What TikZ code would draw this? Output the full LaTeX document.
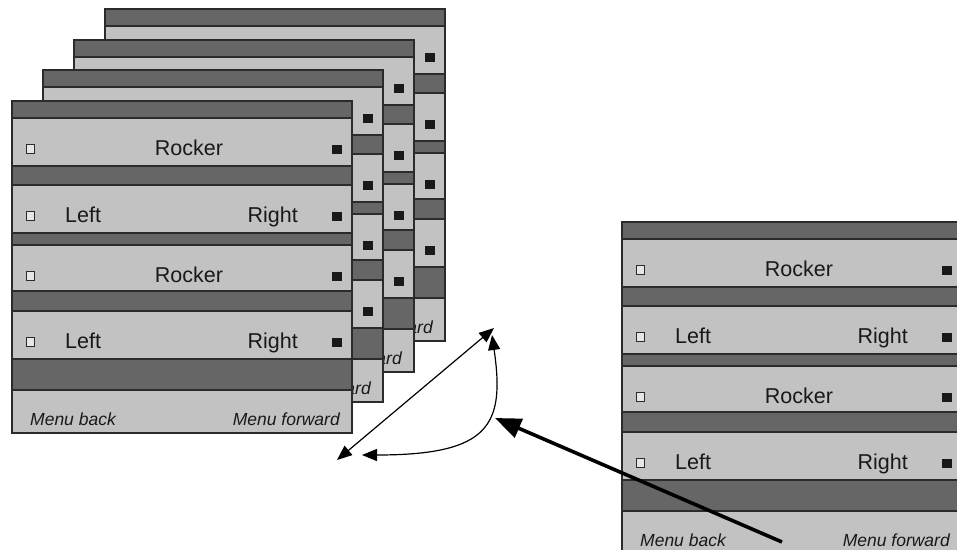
\documentclass[tikz,border=0pt]{standalone}
\usepackage{fontspec}
\setmainfont{Liberation Sans}
\usetikzlibrary{arrows.meta}
\definecolor{banddark}{HTML}{666666}
\definecolor{bandlight}{HTML}{C2C2C2}
\definecolor{edgecol}{HTML}{2B2B2B}
\definecolor{sqopen}{HTML}{E6E6E6}
\tikzset{
  darkband/.style={fill=banddark,draw=edgecol,line width=1.4pt},
  lightband/.style={fill=bandlight,draw=edgecol,line width=1.4pt},
  panelborder/.style={draw=edgecol,line width=1.6pt},
  maintext/.style={inner sep=0pt,font=\fontsize{21.5}{24}\selectfont,text=black!90},
  menutext/.style={inner sep=0pt,font=\fontsize{17.5}{20}\selectfont\itshape,text=black!90},
  opensq/.style={draw=edgecol,fill=sqopen,line width=0.9pt,minimum size=8.5pt,inner sep=0pt},
  fullsq/.style={draw=black!90,fill=black!90,minimum size=8.5pt,inner sep=0pt},
  thinarrow/.style={line width=1.2pt,{Triangle[length=15pt,width=12pt]}-{Triangle[length=15pt,width=12pt]}},
  thickarrow/.style={line width=3.6pt,-{Triangle[length=26pt,width=20pt]}}
}
% bands, squares and the (partly visible) "Menu forward" of one panel
\newcommand\panelbody[3]{%
\begin{scope}[shift={(#1,#2)}]
  \filldraw[darkband]  (0,0)   rectangle (340,17);
  \filldraw[lightband] (0,17)  rectangle (340,65);
  \filldraw[darkband]  (0,65)  rectangle (340,84);
  \filldraw[lightband] (0,84)  rectangle (340,132);
  \filldraw[darkband]  (0,132) rectangle (340,144);
  \filldraw[lightband] (0,144) rectangle (340,190);
  \filldraw[darkband]  (0,190) rectangle (340,210);
  \filldraw[lightband] (0,210) rectangle (340,258);
  \filldraw[darkband]  (0,258) rectangle (340,289);
  \filldraw[lightband] (0,289) rectangle (340,332);
  \draw[panelborder] (0,0) rectangle (340,332);
  \node[menutext,anchor=base east] (#3-mf) at (328,324) {Menu forward};
  \node[opensq] (#3-o1) at (18.5,48) {};
  \node[opensq] (#3-o2) at (18.5,115) {};
  \node[opensq] (#3-o3) at (18.5,175) {};
  \node[opensq] (#3-o4) at (18.5,241) {};
  \node[fullsq] (#3-f1) at (324.5,48) {};
  \node[fullsq] (#3-f2) at (324.5,115) {};
  \node[fullsq] (#3-f3) at (324.5,175) {};
  \node[fullsq] (#3-f4) at (324.5,241) {};
\end{scope}}
% the texts of a panel that is not covered
\newcommand\paneltexts[3]{%
\begin{scope}[shift={(#1,#2)}]
  \node[maintext,anchor=base] (#3-r1) at (177,54) {Rocker};
  \node[maintext,anchor=base west] (#3-l1) at (53,121) {Left};
  \node[maintext,anchor=base east] (#3-g1) at (286,121) {Right};
  \node[maintext,anchor=base] (#3-r2) at (177,181) {Rocker};
  \node[maintext,anchor=base west] (#3-l2) at (53,247) {Left};
  \node[maintext,anchor=base east] (#3-g2) at (286,247) {Right};
  \node[menutext,anchor=base west] (#3-mb) at (18,324) {Menu back};
\end{scope}}
\begin{document}
\begin{tikzpicture}[x=1pt,y=-1pt]
  \useasboundingbox (0,0) rectangle (957,549);
  \clip (0,0) rectangle (957,549);
  \fill[white] (0,0) rectangle (957,549);
  \panelbody{105}{9}{pd}
  \panelbody{74}{40}{pc}
  \panelbody{43}{70}{pb}
  \panelbody{12}{101}{pa}
  \paneltexts{12}{101}{pa}
  \panelbody{622}{222}{pr}
  \paneltexts{622}{222}{pr}
  \coordinate (a1) at (337,460);
  \coordinate (a2) at (494,328);
  \coordinate (c1) at (362,455);
  \coordinate (c2) at (492,335);
  \coordinate (t1) at (782,542);
  \coordinate (t2) at (495,418);
  \draw[thinarrow] (a1) -- (a2);
  \draw[thinarrow] (c1) .. controls (490,455) and (505,425) .. (c2);
  \draw[thickarrow] (t1) -- (t2);
\end{tikzpicture}
\end{document}
